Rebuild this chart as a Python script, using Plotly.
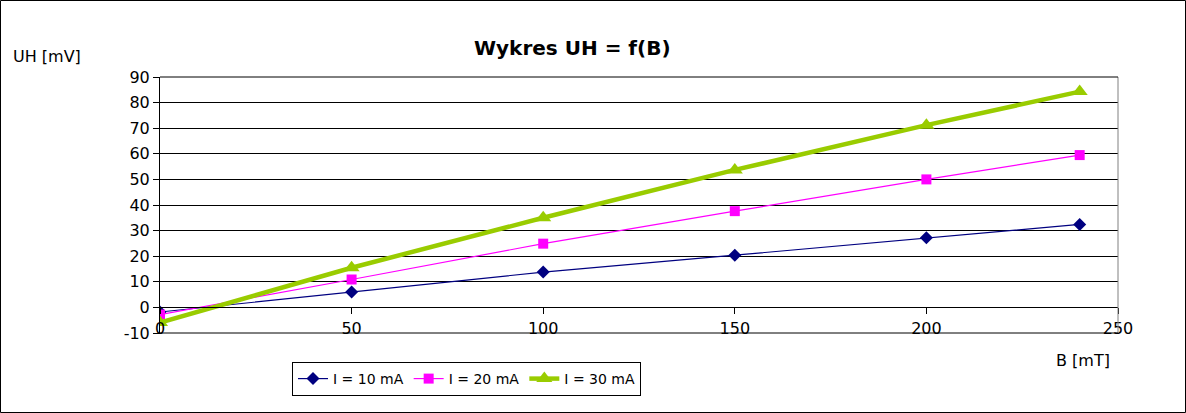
"""Hall voltage vs magnetic field chart (UH = f(B))."""

import plotly.graph_objects as go

# data
B_MT = [0, 50, 100, 150, 200, 240]
SERIES_NAMES = ["I = 10 mA", "I = 20 mA", "I = 30 mA"]
UH_10MA = [-1.8, 6.0, 13.8, 20.4, 27.2, 32.4]
UH_20MA = [-2.8, 10.9, 24.9, 37.6, 50.0, 59.5]
UH_30MA = [-5.9, 15.5, 35.0, 53.7, 71.2, 84.3]
Y_TICKS = list(range(-10, 91, 10))
X_TICKS = list(range(0, 251, 50))

W, H = 1186, 413
PL, PR, PT, PB = 160, 1118, 77, 333  # plot area in pixels


def px_x(x):
    return (x - PL) / (PR - PL)


def px_y(y):
    return (PB - y) / (PB - PT)


FONT = "DejaVu Sans"

styles = [
    {"color": "#000080", "width": 1.2, "symbol": "diamond", "size": 10},
    {"color": "#FF00FF", "width": 1.2, "symbol": "square", "size": 10},
    {"color": "#99CC00", "width": 4.5, "symbol": "triangle-up", "size": 14},
]

fig = go.Figure()
for name, values, st in zip(SERIES_NAMES, [UH_10MA, UH_20MA, UH_30MA], styles):
    fig.add_trace(
        go.Scatter(
            x=B_MT,
            y=values,
            name=name,
            mode="lines+markers",
            line={"color": st["color"], "width": st["width"]},
            marker={"color": st["color"], "symbol": st["symbol"], "size": st["size"]},
        )
    )

fig.update_layout(
    width=W,
    height=H,
    margin={"l": PL, "r": W - PR, "t": PT, "b": H - PB, "autoexpand": False},
    paper_bgcolor="white",
    plot_bgcolor="white",
    font={"family": FONT, "size": 15, "color": "black"},
    showlegend=True,
    legend={
        "orientation": "h",
        "x": px_x(292),
        "xanchor": "left",
        "y": px_y(362),
        "yanchor": "top",
        "bordercolor": "black",
        "borderwidth": 1,
        "font": {"size": 14},
        "itemwidth": 30,
        "tracegroupgap": 0,
    },
    xaxis={
        "range": [0, 250],
        "tickvals": X_TICKS,
        "showgrid": False,
        "zeroline": False,
        "showline": True,
        "linecolor": "black",
        "linewidth": 1,
        "ticks": "outside",
        "ticklen": 6,
        "tickcolor": "black",
        "anchor": "free",
        "position": 0.1,
        "tickfont": {"size": 16},
    },
    yaxis={
        "range": [-10, 90],
        "tickvals": Y_TICKS,
        "ticktext": [str(v) for v in Y_TICKS],
        "showgrid": True,
        "gridcolor": "black",
        "gridwidth": 1,
        "zeroline": False,
        "showline": True,
        "linecolor": "black",
        "ticks": "outside",
        "ticklen": 6,
        "tickcolor": "black",
        "tickfont": {"size": 16},
    },
)

# plot area frame (right side grey, top and bottom black)
fig.add_shape(type="line", xref="paper", yref="paper", x0=1, x1=1, y0=0, y1=1,
              line={"color": "#808080", "width": 1})
fig.add_shape(type="line", xref="paper", yref="paper", x0=0, x1=1, y0=0, y1=0,
              line={"color": "black", "width": 1})
fig.add_shape(type="line", xref="paper", yref="paper", x0=0, x1=1, y0=1, y1=1,
              line={"color": "black", "width": 1})
# outer chart border
fig.add_shape(type="rect", xref="paper", yref="paper",
              x0=px_x(0.5), x1=px_x(W - 0.5), y0=px_y(H - 0.5), y1=px_y(0.5),
              line={"color": "black", "width": 1})

fig.add_annotation(
    text="<b>Wykres UH = f(B)</b>", xref="paper", yref="paper",
    x=px_x(572), y=px_y(48), xanchor="center", yanchor="middle",
    showarrow=False, font={"size": 20},
)
fig.add_annotation(
    text="UH [mV]", xref="paper", yref="paper",
    x=px_x(11), y=px_y(56), xanchor="left", yanchor="middle",
    showarrow=False, font={"size": 16},
)
fig.add_annotation(
    text="B [mT]", xref="paper", yref="paper",
    x=px_x(1054), y=px_y(360), xanchor="left", yanchor="middle",
    showarrow=False, font={"size": 16},
)

fig.write_html(
    "out.html",
    config={"displayModeBar": False},
    post_script="document.body.style.margin='0';document.body.style.overflow='hidden';",
)
